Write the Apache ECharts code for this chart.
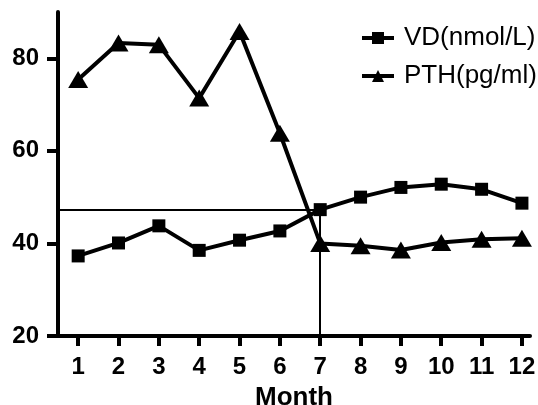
<!DOCTYPE html>
<html>
<head>
<meta charset="utf-8">
<script src="https://cdn.jsdelivr.net/npm/echarts@6/dist/echarts.min.js"></script>
<style>html,body{margin:0;padding:0;background:#fff}#c{width:538px;height:405px}</style>
</head>
<body>
<div id="c"></div>
<script>
const months = [1,2,3,4,5,6,7,8,9,10,11,12];
const vdValues = [37.3, 40.1, 43.8, 38.5, 40.7, 42.7, 47.3, 50.0, 52.1, 52.8, 51.7, 48.7];
const pthValues = [75.4, 83.3, 82.9, 71.4, 85.8, 63.8, 40.0, 39.5, 38.6, 40.2, 40.9, 41.1];
const yTicks = [20, 40, 60, 80];
const crossMonth = 7;
const crossValue = 47.3;
const xMin = 0.5, xMax = 12.2, yMin = 20, yMax = 90;

const font = 'Liberation Sans, Arial, sans-serif';
const chart = echarts.init(document.getElementById('c'));
chart.setOption({
  animation: false,
  backgroundColor: '#fff',
  grid: {left: 58, right: 8, top: 12, bottom: 69, outerBoundsMode: 'none', containLabel: false},
  legend: {
    orient: 'vertical', left: 355, top: 20, itemWidth: 32, itemHeight: 15, itemGap: 12,
    lineStyle: {width: 4},
    textStyle: {fontFamily: font, fontSize: 26, color: '#000', padding: [0,0,0,5]},
    data: ['VD(nmol/L)', 'PTH(pg/ml)']
  },
  xAxis: {
    type: 'value', min: xMin, max: xMax,
    name: 'Month', nameLocation: 'middle', nameGap: 49,
    nameTextStyle: {fontFamily: font, fontSize: 26, fontWeight: 'bold', color: '#000'},
    axisLine: {lineStyle: {color: '#000', width: 4}},
    axisTick: {show: true, length: 10, lineStyle: {color: '#000', width: 4}, customValues: months},
    axisLabel: {customValues: months, margin: 19, fontFamily: font, fontSize: 24, fontWeight: 'bold', color: '#000'},
    splitLine: {show: false}
  },
  yAxis: {
    type: 'value', min: yMin, max: yMax,
    axisLine: {show: true, lineStyle: {color: '#000', width: 4}},
    axisTick: {show: true, length: 11, lineStyle: {color: '#000', width: 4}, customValues: yTicks},
    axisLabel: {customValues: yTicks, margin: 19, fontFamily: font, fontSize: 24, fontWeight: 'bold', color: '#000'},
    splitLine: {show: false}
  },
  series: [
    {
      name: 'VD(nmol/L)', type: 'line',
      data: months.map((m, i) => [m, vdValues[i]]),
      symbol: 'rect', symbolSize: 13,
      lineStyle: {color: '#000', width: 4},
      itemStyle: {color: '#000'},
      markLine: {
        silent: true, symbol: ['none','none'],
        label: {show: false},
        lineStyle: {color: '#000', width: 2, type: 'solid'},
        data: [
          [{coord: [xMin, crossValue]}, {coord: [crossMonth, crossValue]}],
          [{coord: [crossMonth, crossValue]}, {coord: [crossMonth, yMin]}]
        ]
      },
      z: 3
    },
    {
      name: 'PTH(pg/ml)', type: 'line',
      data: months.map((m, i) => [m, pthValues[i]]),
      symbol: 'triangle', symbolSize: [20, 17],
      lineStyle: {color: '#000', width: 4},
      itemStyle: {color: '#000'},
      z: 4
    }
  ]
});
</script>
</body>
</html>
